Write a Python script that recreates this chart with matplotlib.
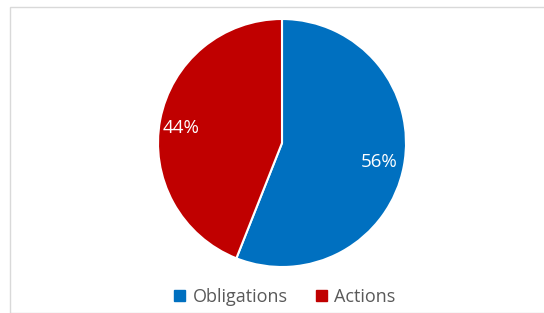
import matplotlib
matplotlib.use("Agg")
import matplotlib.pyplot as plt
from matplotlib.patches import Rectangle, Patch

categories = ["Obligations", "Actions"]
values = [56, 44]
colors = ["#0070C0", "#C00000"]

plt.rcParams['font.family'] = ['Open Sans', 'DejaVu Sans']

W, H = 544, 313
fig = plt.figure(figsize=(W/100, H/100), dpi=100)

# chart border
fig.patches.append(Rectangle((10/W, 0), 1.2, 1 - 7/H, transform=fig.transFigure,
                             fill=False, edgecolor="#D9D9D9", linewidth=1.0))

cx, cy, r = 282, 143, 124
ax = fig.add_axes([(cx - r)/W, (H - cy - r)/H, 2*r/W, 2*r/H])
wedges, texts, autotexts = ax.pie(values, colors=colors, startangle=90, counterclock=False,
                                  autopct=lambda p: f"{p:.0f}%", pctdistance=0.8,
                                  wedgeprops=dict(edgecolor="white", linewidth=1.5),
                                  textprops=dict(color="white", fontsize=13.5))
autotexts[1].set_position((autotexts[1].get_position()[0]*1.04, autotexts[1].get_position()[1]*0.8))
ax.set_xlim(-1, 1)
ax.set_ylim(-1, 1)
ax.set_aspect("equal")
ax.axis("off")

handles = [Patch(facecolor=c, edgecolor=c) for c in colors]
fig.legend(handles, categories, loc="center", bbox_to_anchor=(285/W, 1 - 297/H),
           ncol=2, frameon=False, fontsize=13, labelcolor="#595959",
           handlelength=0.6, handleheight=0.6, handletextpad=0.4, columnspacing=1.6)

fig.savefig("out.png", dpi=100)
